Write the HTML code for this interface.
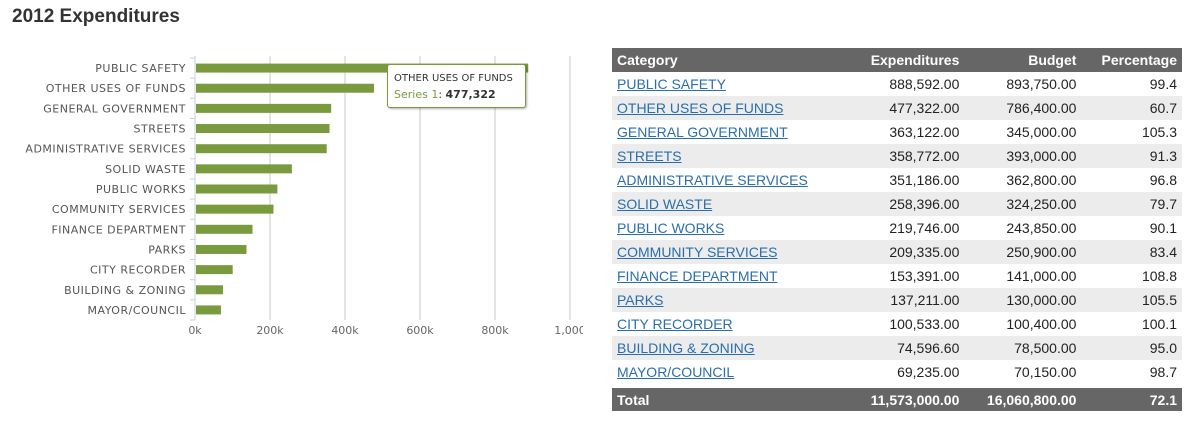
<!DOCTYPE html>
<html><head><meta charset="utf-8">
<style>
body{margin:0;width:1204px;height:422px;background:#fff;font-family:"Liberation Sans",sans-serif;position:relative;overflow:hidden}
h1{position:absolute;left:12px;top:6px;margin:0;font-size:19px;font-weight:bold;color:#333}
#chart{position:absolute;left:0;top:0}
table{position:absolute;left:612px;top:48px;width:570px;border-collapse:collapse;font-size:14px;color:#222}
th{background:#666;color:#fff;font-weight:bold;height:24px;padding:0 5px;text-align:right}
th:first-child{text-align:left}
td{height:24px;padding:0 5px;text-align:right}
td:first-child{text-align:left}
tbody tr:nth-child(even){background:#ececec}
a{color:#2a6ead;text-decoration:underline}
tr.sp td{height:4px;padding:0;background:#fff}
tr.tot td{background:#666;color:#fff;font-weight:bold;height:23px}
#tip{position:absolute;left:387px;top:64px;width:137px;height:42px;background:#fff;border:1px solid #7a9a3e;border-radius:3px;box-shadow:1px 1px 2px rgba(0,0,0,.3);font-family:"DejaVu Sans",sans-serif;font-size:10px;color:#333}
</style></head><body>
<h1>2012 Expenditures</h1>
<svg id="chart" width="583" height="400"></svg>
<div id="tip">
<div style="position:absolute;left:6px;top:8px">OTHER USES OF FUNDS</div>
<div style="position:absolute;left:6px;top:23px;font-size:11px"><span style="color:#7a9a3e">Series 1</span>: <b>477,322</b></div>
</div>
<table>
<thead><tr><th>Category</th><th>Expenditures</th><th>Budget</th><th>Percentage</th></tr></thead>
<tbody id="tb"></tbody>
</table>
<script>
const categories=["PUBLIC SAFETY","OTHER USES OF FUNDS","GENERAL GOVERNMENT","STREETS","ADMINISTRATIVE SERVICES","SOLID WASTE","PUBLIC WORKS","COMMUNITY SERVICES","FINANCE DEPARTMENT","PARKS","CITY RECORDER","BUILDING & ZONING","MAYOR/COUNCIL"];
const expenditures=[888592,477322,363122,358772,351186,258396,219746,209335,153391,137211,100533,74596.6,69235];
const budgets=[893750,786400,345000,393000,362800,324250,243850,250900,141000,130000,100400,78500,70150];
const percents=["99.4","60.7","105.3","91.3","96.8","79.7","90.1","83.4","108.8","105.5","100.1","95.0","98.7"];
const tickValues=[0,200000,400000,600000,800000,1000000];
const tickLabels=["0k","200k","400k","600k","800k","1,000"];
const NS="http://www.w3.org/2000/svg";
const svg=document.getElementById('chart');
const X0=195,XW=375,Y0=58,Y1=320;
const band=(Y1-Y0)/categories.length;
const x=v=>X0+v/1000000*XW;
const y=i=>Y0+i*band;
function mk(t,a){const e=document.createElementNS(NS,t);for(const k in a)e.setAttribute(k,a[k]);svg.appendChild(e);return e;}
tickValues.forEach((v,i)=>{
 if(i>0){const g=mk('line',{x1:x(v),x2:x(v),y1:Y0-2,y2:Y1,stroke:'#c8c8c8','stroke-width':1});
 
 }
 const t=mk('text',{x:x(v),y:334,'text-anchor':'middle','font-family':'DejaVu Sans, sans-serif','font-size':11,fill:'#666'});
 t.textContent=tickLabels[i];
 
 
});
const ax=mk('line',{x1:X0,x2:X0,y1:Y0-2,y2:Y1,stroke:'#c0d0e0','stroke-width':1});


for(let i=0;i<=categories.length;i++){
 const tk=mk('line',{x1:X0-5,x2:X0,y1:y(i),y2:y(i),stroke:'#c0d0e0'});
 
 
}
categories.forEach((c,i)=>{
 const t=mk('text',{x:186,y:y(i)+band/2+4,'text-anchor':'end','font-family':'DejaVu Sans, sans-serif','font-size':11,'letter-spacing':0.5,fill:'#555'});
 t.textContent=c;
 
 
 const b=mk('rect',{x:X0+1,y:y(i)+band/2-4.5,width:x(expenditures[i])-X0-1,height:9,fill:'#7a9a3e'});
 
 
});
const fmt=v=>v.toLocaleString('en-US',{minimumFractionDigits:2,maximumFractionDigits:2});
const tb=document.getElementById('tb');
categories.forEach((c,i)=>{
 const tr=document.createElement('tr');
 
 
 tr.innerHTML=`<td><a href="#">${c.replace('&','&amp;')}</a></td><td>${fmt(expenditures[i])}</td><td>${fmt(budgets[i])}</td><td>${percents[i]}</td>`;
 tb.appendChild(tr);
});
const sp=document.createElement('tr');sp.className='sp';sp.innerHTML='<td colspan="4"></td>';


tb.appendChild(sp);
const tot=document.createElement('tr');tot.className='tot';


tot.innerHTML='<td>Total</td><td>11,573,000.00</td><td>16,060,800.00</td><td>72.1</td>';
tb.appendChild(tot);
</script>
</body></html>
